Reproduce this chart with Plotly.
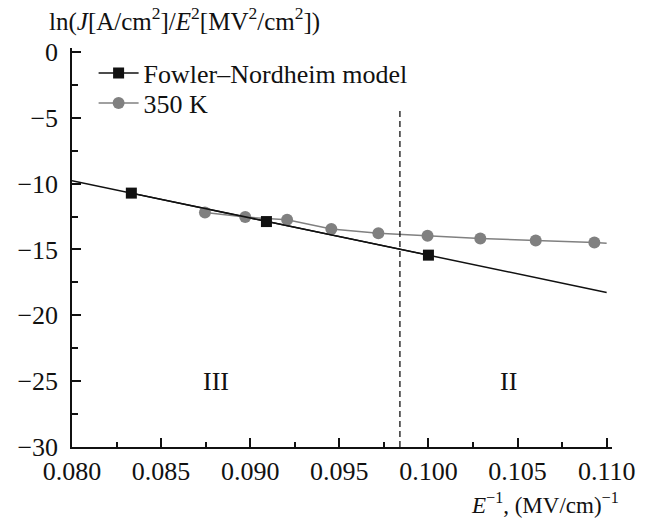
import plotly.graph_objects as go

# Fowler–Nordheim model points (E^-1, ln(J/E^2))
fn_x = [0.08333, 0.09091, 0.10000]
fn_y = [-10.72, -12.88, -15.43]
# model straight line end points
fn_line_x = [0.080, 0.110]
fn_line_y = [-9.78, -18.26]

# 350 K measured points
k350_x = [0.08746, 0.08972, 0.09207, 0.09455, 0.09719, 0.09995, 0.10291, 0.10602, 0.10931]
k350_y = [-12.19, -12.54, -12.75, -13.44, -13.76, -13.96, -14.17, -14.32, -14.47]
# short tail of the 350 K curve beyond last point
k350_tail_x = [0.10931, 0.1100]
k350_tail_y = [-14.47, -14.52]

# region boundary
boundary_x = 0.0984
boundary_y = [-30, -4.4]

region_labels = ["III", "II"]
region_x = [0.0881, 0.1045]
region_y = [-25, -25]

FONT = "Liberation Serif"
BLACK = "#111111"
GREY = "#808080"

fig = go.Figure()

fig.add_trace(go.Scatter(x=fn_line_x, y=fn_line_y, mode="lines",
                         line=dict(color=BLACK, width=1.5), showlegend=False,
                         hoverinfo="skip"))
fig.add_trace(go.Scatter(x=k350_tail_x, y=k350_tail_y, mode="lines",
                         line=dict(color=GREY, width=1.5), showlegend=False,
                         hoverinfo="skip"))
fig.add_trace(go.Scatter(x=k350_x, y=k350_y, mode="lines+markers", name="350 K",
                         line=dict(color=GREY, width=1.5),
                         marker=dict(symbol="circle", size=12, color=GREY),
                         legend="legend2"))
fig.add_trace(go.Scatter(x=fn_x, y=fn_y, mode="lines+markers", name="Fowler–Nordheim model",
                         line=dict(color=BLACK, width=1.5),
                         marker=dict(symbol="square", size=11, color=BLACK),
                         legend="legend"))

fig.add_shape(type="line", x0=boundary_x, x1=boundary_x, y0=boundary_y[0], y1=boundary_y[1],
              xref="x", yref="y", line=dict(color=BLACK, width=1.3, dash="6px,4px"))

for t, x, y in zip(region_labels, region_x, region_y):
    fig.add_annotation(x=x, y=y, xref="x", yref="y", text=t, showarrow=False,
                       font=dict(family=FONT, size=26, color=BLACK))

fig.add_annotation(x=-0.046, y=1.072, xref="paper", yref="paper", xanchor="left", yanchor="middle",
                   text="ln(<i>J</i>[A/cm<sup>2</sup>]/<i>E</i><sup>2</sup>[MV<sup>2</sup>/cm<sup>2</sup>])",
                   showarrow=False, font=dict(family=FONT, size=25, color=BLACK))
fig.add_annotation(x=1.0165, y=-0.142, xref="paper", yref="paper", xanchor="right", yanchor="middle",
                   text="<i>E</i><sup>−1</sup>, (MV/cm)<sup>−1</sup>",
                   showarrow=False, font=dict(family=FONT, size=23, color=BLACK))

axis_common = dict(showline=True, linecolor=BLACK, linewidth=1.5, showgrid=False, zeroline=False,
                   ticks="inside", tickcolor=BLACK, tickwidth=1.5, ticklen=9,
                   tickfont=dict(family=FONT, size=26, color=BLACK), mirror=False)

fig.update_xaxes(range=[0.080, 0.1103], tickmode="linear", tick0=0.080, dtick=0.005,
                 tickformat=".3f",
                 minor=dict(ticks="inside", dtick=0.0025, tick0=0.080, ticklen=5,
                            tickcolor=BLACK, tickwidth=1.5, showgrid=False),
                 **axis_common)
fig.update_yaxes(range=[-30, 0.3], tickmode="linear", tick0=0, dtick=5,
                 ticklabelstandoff=7,
                 minor=dict(ticks="inside", dtick=2.5, tick0=0, ticklen=6,
                            tickcolor=BLACK, tickwidth=1.5, showgrid=False),
                 **axis_common)

leg_common = dict(xanchor="left", yanchor="middle", bgcolor="rgba(0,0,0,0)",
                  font=dict(family=FONT, size=26, color=BLACK), itemwidth=40)
fig.update_layout(width=647, height=518, margin=dict(l=72, r=30, t=48, b=71),
                  paper_bgcolor="white", plot_bgcolor="white",
                  font=dict(family=FONT, color=BLACK),
                  showlegend=True,
                  legend=dict(x=0.04, y=0.937, **leg_common),
                  legend2=dict(x=0.04, y=0.862, **leg_common))

fig.write_html("out.html")
